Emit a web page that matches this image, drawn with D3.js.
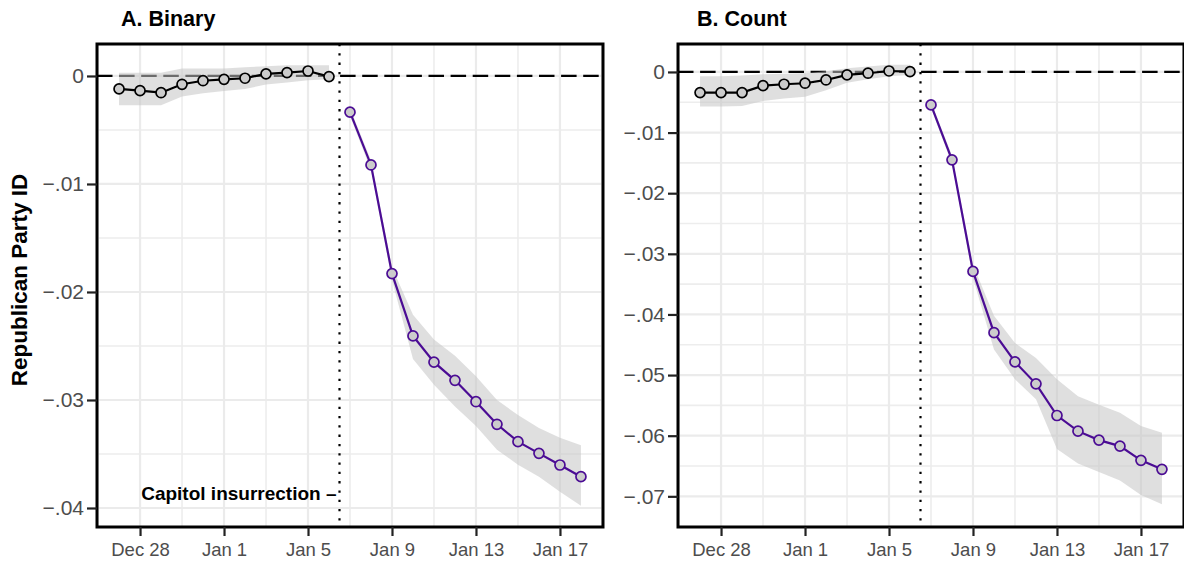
<!DOCTYPE html>
<html>
<head>
<meta charset="utf-8">
<script src="https://cdn.jsdelivr.net/npm/d3@7"></script>
<style>
  body { margin: 0; background: #fff; }
  svg { display: block; font-family: "Liberation Sans", Arial, sans-serif; }
</style>
</head>
<body>
<div id="chart"></div>
<script>
// days before and after the insurrection
const preDays = ["2020-12-27", "2020-12-28", "2020-12-29", "2020-12-30", "2020-12-31", "2021-01-01",
    "2021-01-02", "2021-01-03", "2021-01-04", "2021-01-05", "2021-01-06"];
const postDays = ["2021-01-07", "2021-01-08", "2021-01-09", "2021-01-10", "2021-01-11", "2021-01-12",
    "2021-01-13", "2021-01-14", "2021-01-15", "2021-01-16", "2021-01-17", "2021-01-18"];
const eventDay = "2021-01-06";

const xTickDays = ["2020-12-28", "2021-01-01", "2021-01-05", "2021-01-09", "2021-01-13", "2021-01-17"];
const xTickLabels = ["Dec 28", "Jan 1", "Jan 5", "Jan 9", "Jan 13", "Jan 17"];

// A. Binary
const binaryPre = [-0.0012, -0.00136, -0.00155, -0.00077, -0.00044, -0.00031, -0.00021, 0.00019, 0.00031, 0.00046, -0.00006];
const binaryPreLo = [-0.0027, -0.0027, -0.0027, -0.0019, -0.0016, -0.0014, -0.0012, -0.0008, -0.0006, -0.0004, -0.0003];
const binaryPreHi = [0.0003, 0.0003, 0.0003, 0.0007, 0.0007, 0.0007, 0.0008, 0.0009, 0.001, 0.001, 0.001];
const binaryPost = [-0.00335, -0.00824, -0.0183, -0.02407, -0.0265, -0.02818, -0.03016, -0.03225, -0.03386, -0.03494, -0.03602, -0.0371];
const binaryPostLo = [-0.0037, -0.0087, -0.0189, -0.0262, -0.0286, -0.0306, -0.0324, -0.0346, -0.036, -0.0371, -0.0385, -0.0398];
const binaryPostHi = [-0.003, -0.0078, -0.0177, -0.0221, -0.0244, -0.0259, -0.0278, -0.03, -0.0314, -0.0326, -0.0335, -0.0342];
const binaryTicks = [0, -0.01, -0.02, -0.03, -0.04];
const binaryTickLabels = ["0", "\u2212.01", "\u2212.02", "\u2212.03", "\u2212.04"];

// B. Count
const countPre = [-0.0034, -0.0034, -0.0034, -0.00226, -0.00203, -0.00186, -0.00132, -0.00049, -0.00021, 0.00016, 0.00005];
const countPreLo = [-0.0057, -0.0057, -0.0056, -0.0048, -0.0044, -0.0041, -0.003, -0.0018, -0.0012, -0.0007, -0.0005];
const countPreHi = [-0.0007, -0.0007, -0.0006, -0.0004, -0.0003, -0.0002, 0.0001, 0.0006, 0.0009, 0.0012, 0.0012];
const countPost = [-0.00544, -0.0145, -0.0329, -0.043, -0.04783, -0.05145, -0.05667, -0.05925, -0.06073, -0.06172, -0.06407, -0.06555];
const countPostLo = [-0.006, -0.0152, -0.034, -0.0458, -0.0507, -0.054, -0.0622, -0.0646, -0.066, -0.0674, -0.0698, -0.0713];
const countPostHi = [-0.0049, -0.0138, -0.0318, -0.0402, -0.0447, -0.0472, -0.0507, -0.0535, -0.0549, -0.0562, -0.0584, -0.0595];
const countTicks = [0, -0.01, -0.02, -0.03, -0.04, -0.05, -0.06, -0.07];
const countTickLabels = ["0", "\u2212.01", "\u2212.02", "\u2212.03", "\u2212.04", "\u2212.05", "\u2212.06", "\u2212.07"];

const width = 1184, height = 561;
const plotTop = 44, plotBottom = 527;
const purple = "#4b0c94";
const DAY = 864e5;
const parse = d3.utcParse("%Y-%m-%d");

const svg = d3.select("#chart").append("svg")
    .attr("width", width)
    .attr("height", height);

const panels = [
    {title: "A. Binary", titleX: 121, left: 97, right: 603, yDomain: [-0.04176, 0.00296],
     pre: binaryPre, preLo: binaryPreLo, preHi: binaryPreHi,
     post: binaryPost, postLo: binaryPostLo, postHi: binaryPostHi,
     ticks: binaryTicks, tickLabels: binaryTickLabels, note: true},
    {title: "B. Count", titleX: 697, left: 678, right: 1184, yDomain: [-0.07506, 0.00461],
     pre: countPre, preLo: countPreLo, preHi: countPreHi,
     post: countPost, postLo: countPostLo, postHi: countPostHi,
     ticks: countTicks, tickLabels: countTickLabels, note: false}
];

function toRows(days, v, lo, hi) {
    return days.map((d, i) => ({date: parse(d), v: v[i], lo: lo[i], hi: hi[i]}));
}

panels.forEach(function(p) {
    let xDomain = [new Date(+parse(preDays[0]) - 1.05 * DAY),
                   new Date(+parse(postDays[postDays.length - 1]) + 1.05 * DAY)];
    let x = d3.scaleUtc().domain(xDomain).range([p.left, p.right]);
    let y = d3.scaleLinear().domain(p.yDomain).range([plotBottom, plotTop]);
    let g = svg.append("g");

    let tickDates = xTickDays.map(parse);
    let minorDates = tickDates.map(d => new Date(+d + 2 * DAY))
        .concat([new Date(+tickDates[0] - 2 * DAY)])
        .filter(d => d >= xDomain[0] && d <= xDomain[1]);
    let minorY = p.ticks.map(t => t - 0.005).concat([0.005])
        .filter(t => t >= p.yDomain[0] && t <= p.yDomain[1]);

    // grid
    g.selectAll(".vminor").data(minorDates).enter().append("line")
        .attr("x1", d => x(d)).attr("x2", d => x(d))
        .attr("y1", plotTop).attr("y2", plotBottom)
        .attr("stroke", "#ededed").attr("stroke-width", 1.6);
    g.selectAll(".hminor").data(minorY).enter().append("line")
        .attr("x1", p.left).attr("x2", p.right)
        .attr("y1", d => y(d)).attr("y2", d => y(d))
        .attr("stroke", "#ededed").attr("stroke-width", 1.6);
    g.selectAll(".vmajor").data(tickDates).enter().append("line")
        .attr("x1", d => x(d)).attr("x2", d => x(d))
        .attr("y1", plotTop).attr("y2", plotBottom)
        .attr("stroke", "#ebebeb").attr("stroke-width", 2.2);
    g.selectAll(".hmajor").data(p.ticks).enter().append("line")
        .attr("x1", p.left).attr("x2", p.right)
        .attr("y1", d => y(d)).attr("y2", d => y(d))
        .attr("stroke", "#ebebeb").attr("stroke-width", 2.2);

    // reference lines
    g.append("line")
        .attr("x1", p.left).attr("x2", p.right)
        .attr("y1", y(0)).attr("y2", y(0))
        .attr("stroke", "#000").attr("stroke-width", 2.2)
        .attr("stroke-dasharray", "15.5,6.6");
    let ev = new Date(+parse(eventDay) + 0.5 * DAY);
    g.append("line")
        .attr("x1", x(ev)).attr("x2", x(ev))
        .attr("y1", plotTop).attr("y2", plotBottom)
        .attr("stroke", "#000").attr("stroke-width", 2.2)
        .attr("stroke-dasharray", "2.3,7");

    let segs = [
        {rows: toRows(preDays, p.pre, p.preLo, p.preHi), color: "#000"},
        {rows: toRows(postDays, p.post, p.postLo, p.postHi), color: purple}
    ];
    let area = d3.area().x(d => x(d.date)).y0(d => y(d.lo)).y1(d => y(d.hi));
    let line = d3.line().x(d => x(d.date)).y(d => y(d.v));

    segs.forEach(function(s) {
        g.append("path").datum(s.rows)
            .attr("d", area)
            .attr("fill", "#c4c4c4").attr("fill-opacity", 0.55);
    });
    segs.forEach(function(s) {
        g.append("path").datum(s.rows)
            .attr("d", line)
            .attr("fill", "none").attr("stroke", s.color).attr("stroke-width", 2.2);
        g.selectAll(null).data(s.rows).enter().append("circle")
            .attr("cx", d => x(d.date)).attr("cy", d => y(d.v))
            .attr("r", 5)
            .attr("fill", "#cccccc").attr("stroke", s.color).attr("stroke-width", 1.7);
    });

    if (p.note) {
        g.append("text")
            .attr("x", x(ev) - 3).attr("y", y(-0.0386))
            .attr("dy", "0.35em")
            .attr("text-anchor", "end")
            .attr("font-weight", "bold").attr("font-size", "19px")
            .text("Capitol insurrection \u2013");
    }

    // panel border
    g.append("rect")
        .attr("x", p.left).attr("y", plotTop)
        .attr("width", p.right - p.left).attr("height", plotBottom - plotTop)
        .attr("fill", "none").attr("stroke", "#000").attr("stroke-width", 3);

    // axes
    let xAxis = g.append("g")
        .attr("transform", "translate(0," + plotBottom + ")")
        .call(d3.axisBottom(x).tickValues(tickDates)
            .tickFormat((d, i) => xTickLabels[i]).tickSize(9).tickPadding(7));
    let yAxis = g.append("g")
        .attr("transform", "translate(" + p.left + ",0)")
        .call(d3.axisLeft(y).tickValues(p.ticks)
            .tickFormat((d, i) => p.tickLabels[i]).tickSize(10).tickPadding(3));
    [xAxis, yAxis].forEach(function(a) {
        a.select(".domain").remove();
        a.selectAll(".tick line").attr("stroke", "#222").attr("stroke-width", 2.2);
        a.selectAll(".tick text")
            .attr("fill", "#4d4d4d")
            .attr("font-family", "Liberation Sans, Arial, sans-serif");
    });
    xAxis.selectAll(".tick text").attr("font-size", "18.5px");
    yAxis.selectAll(".tick text").attr("font-size", "21px");

    svg.append("text")
        .attr("x", p.titleX).attr("y", 26)
        .attr("font-weight", "bold").attr("font-size", "21.5px")
        .text(p.title);
});

svg.append("text")
    .attr("transform", "translate(27,280) rotate(-90)")
    .attr("text-anchor", "middle")
    .attr("font-weight", "bold").attr("font-size", "22.5px")
    .text("Republican Party ID");
</script>
</body>
</html>
